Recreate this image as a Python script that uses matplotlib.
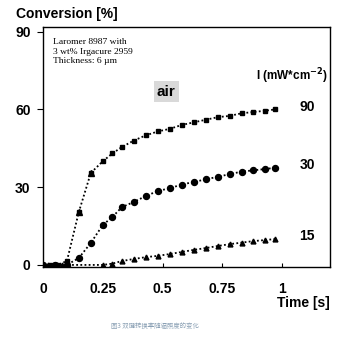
import matplotlib
matplotlib.use("Agg")
import matplotlib.pyplot as plt

# Data
t90 = [0.0, 0.03, 0.06, 0.1, 0.15, 0.2, 0.25, 0.29, 0.33, 0.38, 0.43, 0.48, 0.53, 0.58, 0.63, 0.68, 0.73, 0.78, 0.83, 0.88, 0.93, 0.97]
c90 = [0, 0, 0, 1.5, 20.5, 35.5, 40, 43, 45.5, 48, 50, 51.5, 52.5, 54, 55, 56, 57, 57.5, 58.5, 59, 59.5, 60]
t30 = [0.0, 0.05, 0.1, 0.15, 0.2, 0.25, 0.29, 0.33, 0.38, 0.43, 0.48, 0.53, 0.58, 0.63, 0.68, 0.73, 0.78, 0.83, 0.88, 0.93, 0.97]
c30 = [0, 0, 0, 2.7, 8.5, 15.4, 18.5, 22.3, 24.3, 26.6, 28.5, 29.6, 31, 32, 33, 34, 35, 36, 36.5, 37, 37.5]
t15 = [0.0, 0.02, 0.04, 0.06, 0.08, 0.25, 0.29, 0.33, 0.38, 0.43, 0.48, 0.53, 0.58, 0.63, 0.68, 0.73, 0.78, 0.83, 0.88, 0.93, 0.97]
c15 = [0, 0, 0, 0, 0, 0, 0.5, 1.5, 2.3, 3, 3.5, 4.2, 5, 5.8, 6.5, 7.3, 8, 8.6, 9.2, 9.6, 10]
series_labels = ["90", "30", "15"]
xticks = [0, 0.25, 0.5, 0.75, 1]
xticklabels = ["0", "0.25", "0.5", "0.75", "1"]
yticks = [0, 30, 60, 90]

fig = plt.figure(figsize=(3.5, 3.37), dpi=100)
ax = fig.add_axes([43/350, 1-267/337, (330-43)/350, (267-27)/337])
ax.set_xlim(0, 1.2)
ax.set_ylim(-0.8, 91.8)

ls = (0, (1, 1.3))
ax.plot(t90, c90, ls=ls, color='black', lw=1.3, marker='s', ms=3.0)
ax.plot(t30, c30, ls=ls, color='black', lw=1.3, marker='o', ms=4.3)
ax.plot(t15, c15, ls=ls, color='black', lw=1.3, marker='^', ms=3.5)
# rising early points of the 90 series appear as triangles
ax.plot(t90[4:6], c90[4:6], ls='none', color='black', marker='^', ms=4.2)

for s in ax.spines.values():
    s.set_linewidth(1.0)

tf = dict(fontsize=10, fontweight='bold', family='Liberation Sans')
ax.set_xticks(xticks)
ax.set_xticklabels(xticklabels, **tf)
ax.set_yticks(yticks)
ax.set_yticklabels([str(v) for v in yticks], **tf)
ax.tick_params(axis='x', direction='in', length=3, pad=11, width=0.8)
ax.tick_params(axis='y', direction='out', length=4, pad=5, width=0.8)

fig.text(16/350, 1-14/337, "Conversion [%]", va='center', ha='left', **tf)
fig.text(330/350, 1-303/337, "Time [s]", va='center', ha='right', **tf)

ax.text(0.04, 87.4, "Laromer 8987 with\n3 wt% Irgacure 2959\nThickness: 6 µm", fontsize=6.8,
        family='Liberation Serif', va='top', ha='left', linespacing=1.25)
ax.text(0.515, 66.9, "air", fontsize=11, fontweight='bold', family='Liberation Sans', ha='center', va='center',
        bbox=dict(boxstyle='square,pad=0.2', fc='#d9d9d9', ec='none'))
ax.text(1.19, 73.0, "I (mW*cm$^{\\mathbf{-2}}$)", fontsize=8.5, fontweight='bold', family='Liberation Sans',
        ha='right', va='center')
for lab, y in zip(series_labels, [c90[-1], c30[-1], c15[-1]]):
    ax.text(1.105, y + 1.0, lab, ha='center', va='center', **tf)

fig.text(155/350, 1-326/337, "图3 双键转换率随辐照度的变化", fontsize=4.6, color='#8aa0b4',
         family=['Noto Sans CJK SC', 'DejaVu Sans'], ha='center', va='center')

fig.savefig("out.png", dpi=100)
